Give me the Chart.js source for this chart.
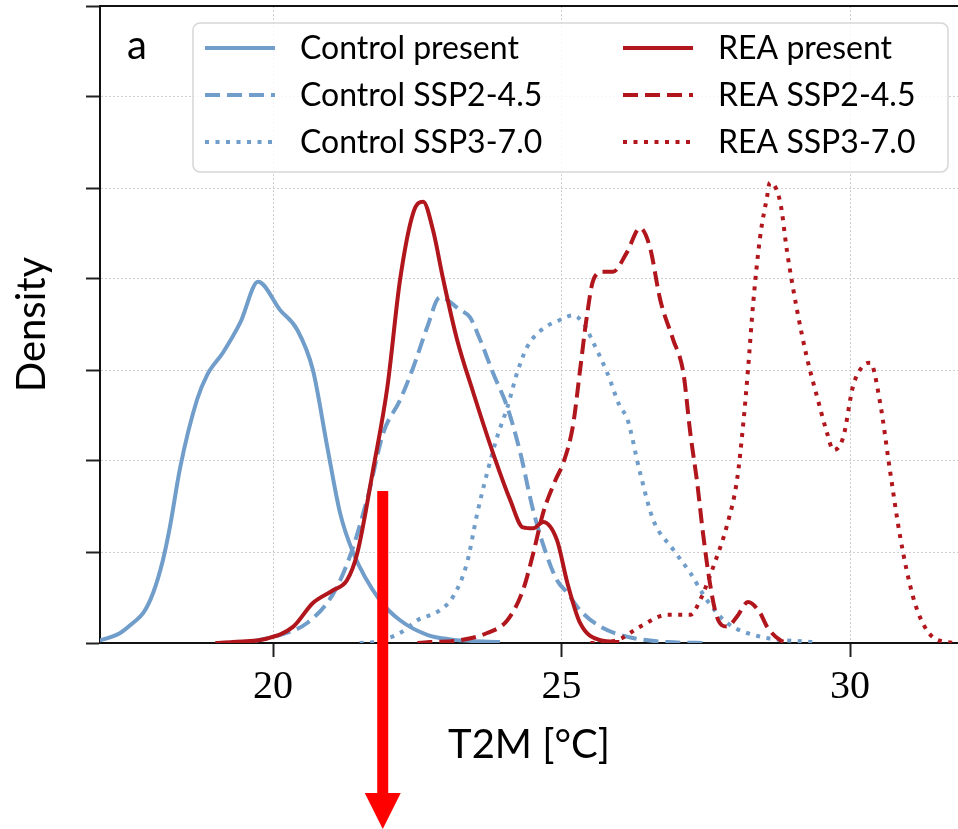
<!DOCTYPE html>
<html>
<head>
<meta charset="utf-8">
<script src="https://cdn.jsdelivr.net/npm/chart.js@4.4.1/dist/chart.umd.min.js"></script>
<style>
  html, body { margin: 0; padding: 0; background: #fff; }
  #wrap { width: 958px; height: 829px; }
</style>
</head>
<body>
<div id="wrap"><canvas id="kde"></canvas></div>
<script>
// temperature (x) and density (y) of each curve
const ctrlPresentX = [16.8, 17.0, 17.35, 17.57, 17.75, 17.92, 18.09, 18.21, 18.39, 18.68, 18.86, 19.13, 19.43, 19.74, 20.12, 20.42, 20.69, 20.94, 21.16, 21.39, 21.85, 22.2, 22.67, 23.07, 23.93];
const ctrlPresentY = [0.001, 0.003, 0.011, 0.022, 0.033, 0.055, 0.091, 0.127, 0.193, 0.267, 0.295, 0.319, 0.352, 0.397, 0.366, 0.344, 0.300, 0.215, 0.143, 0.099, 0.047, 0.025, 0.009, 0.004, 0.001];

const ctrlSsp2X = [19.3, 19.55, 20.12, 20.59, 21.04, 21.33, 21.63, 21.91, 22.2, 22.43, 22.67, 22.89, 23.24, 23.41, 23.59, 23.81, 24.06, 24.28, 24.51, 24.75, 24.92, 25.1, 25.32, 25.67, 26.13, 26.83, 27.5];
const ctrlSsp2Y = [0.0, 0.001, 0.009, 0.022, 0.054, 0.095, 0.158, 0.231, 0.267, 0.303, 0.347, 0.380, 0.366, 0.358, 0.333, 0.297, 0.259, 0.21, 0.145, 0.095, 0.069, 0.055, 0.036, 0.018, 0.007, 0.001, 0.0];

const ctrlSsp3X = [21.5, 21.73, 22.2, 22.5, 22.89, 23.12, 23.36, 23.54, 23.71, 23.88, 24.06, 24.23, 24.40, 24.63, 24.97, 25.2, 25.37, 25.55, 25.79, 26.01, 26.14, 26.36, 26.59, 26.93, 27.23, 27.52, 27.87, 28.44, 29.36];
const ctrlSsp3Y = [0.0, 0.001, 0.011, 0.025, 0.036, 0.051, 0.088, 0.143, 0.187, 0.226, 0.259, 0.297, 0.325, 0.343, 0.355, 0.360, 0.352, 0.330, 0.297, 0.260, 0.246, 0.187, 0.135, 0.103, 0.077, 0.047, 0.022, 0.007, 0.001];

const reaPresentX = [19.0, 19.3, 19.9, 20.35, 20.69, 21.04, 21.28, 21.46, 21.74, 21.98, 22.2, 22.43, 22.6, 22.77, 22.95, 23.19, 23.47, 23.81, 24.11, 24.33, 24.51, 24.68, 24.92, 25.1, 25.32, 25.67, 26.0];
const reaPresentY = [0.0, 0.001, 0.005, 0.018, 0.044, 0.058, 0.069, 0.099, 0.193, 0.281, 0.399, 0.473, 0.485, 0.454, 0.399, 0.333, 0.275, 0.209, 0.157, 0.127, 0.126, 0.133, 0.113, 0.066, 0.022, 0.003, 0.001];

const reaSsp2X = [22.5, 22.72, 23.24, 23.71, 24.06, 24.33, 24.51, 24.68, 24.9, 25.03, 25.2, 25.32, 25.44, 25.55, 25.72, 25.89, 26.13, 26.36, 26.53, 26.71, 26.93, 27.11, 27.23, 27.35, 27.45, 27.57, 27.69, 27.87, 28.04, 28.23, 28.44, 28.56, 28.79, 28.96];
const reaSsp2Y = [0.0, 0.001, 0.003, 0.011, 0.025, 0.058, 0.099, 0.143, 0.18, 0.198, 0.24, 0.30, 0.36, 0.399, 0.408, 0.408, 0.429, 0.456, 0.435, 0.377, 0.334, 0.297, 0.231, 0.176, 0.121, 0.066, 0.029, 0.018, 0.029, 0.045, 0.033, 0.018, 0.003, 0.0];

const reaSsp3X = [25.5, 25.96, 26.36, 26.83, 27.23, 27.40, 27.63, 27.87, 28.04, 28.15, 28.23, 28.32, 28.44, 28.56, 28.61, 28.79, 28.91, 29.08, 29.25, 29.43, 29.60, 29.71, 29.88, 30.05, 30.23, 30.35, 30.52, 30.69, 30.87, 31.09, 31.33, 31.68, 32.0];
const reaSsp3Y = [0.0, 0.003, 0.018, 0.031, 0.031, 0.047, 0.084, 0.13, 0.179, 0.242, 0.3, 0.373, 0.446, 0.49, 0.506, 0.484, 0.429, 0.366, 0.314, 0.270, 0.231, 0.212, 0.226, 0.282, 0.305, 0.308, 0.264, 0.190, 0.116, 0.051, 0.014, 0.001, 0.0];

const seriesLabels = ['Control present', 'Control SSP2-4.5', 'Control SSP3-7.0', 'REA present', 'REA SSP2-4.5', 'REA SSP3-7.0'];
const xTicks = [20, 25, 30];
const yTicks = [0, 0.1, 0.2, 0.3, 0.4, 0.5, 0.6, 0.7];
const panelLetter = 'a';
// red marker arrow: x position and top in data units
const arrowX = 21.9;
const arrowTop = 0.167;

const blue = 'rgb(112, 157, 201)';
const red = 'rgb(176, 22, 28)';
const solid = [];
const dashed = [15, 7];
const dotted = [4, 6.5];

function pts(xs, ys) {
    return xs.map((x, i) => ({ x: x, y: ys[i] }));
}

function curve(label, xs, ys, color, dash, order) {
    return {
        label: label,
        data: pts(xs, ys),
        borderColor: color,
        borderWidth: 4,
        borderDash: dash,
        pointRadius: 0,
        fill: false,
        tension: 0.4,
        cubicInterpolationMode: 'monotone',
        order: order
    };
}

// two column legend inside the plot, plus the panel letter and the arrow
const legendBox = {
    id: 'legendBox',
    afterDatasetsDraw(chart) {
        const ctx = chart.ctx;
        const a = chart.chartArea;
        const left = a.left + 93, top = a.top + 17;
        ctx.save();
        ctx.beginPath();
        ctx.roundRect(left, top, 755, 149, 7);
        ctx.fillStyle = 'rgba(255,255,255,0.8)';
        ctx.fill();
        ctx.lineWidth = 1.5;
        ctx.strokeStyle = '#d6d6d6';
        ctx.stroke();

        ctx.font = '32px Lato';
        ctx.textBaseline = 'middle';
        chart.data.datasets.forEach((ds, i) => {
            const col = Math.floor(i / 3), row = i % 3;
            const x0 = left + 12 + col * 418;
            const y = top + 25 + row * 47;
            ctx.beginPath();
            ctx.setLineDash(ds.borderDash);
            ctx.strokeStyle = ds.borderColor;
            ctx.lineWidth = ds.borderWidth;
            ctx.moveTo(x0, y);
            ctx.lineTo(x0 + 70, y);
            ctx.stroke();
            ctx.setLineDash([]);
            ctx.fillStyle = '#000';
            ctx.fillText(ds.label, x0 + 95, y + 1);
        });

        ctx.font = '40px Lato';
        ctx.fillText(panelLetter, a.left + 27, a.top + 40);
        ctx.restore();
    },
    afterDraw(chart) {
        const ctx = chart.ctx;
        const x = chart.scales.x.getPixelForValue(arrowX);
        const y0 = chart.scales.y.getPixelForValue(arrowTop);
        const y1 = chart.height;
        ctx.save();
        ctx.fillStyle = '#ff0000';
        ctx.fillRect(x - 5.5, y0, 11, y1 - y0 - 34);
        ctx.beginPath();
        ctx.moveTo(x - 18, y1 - 36);
        ctx.lineTo(x + 18, y1 - 36);
        ctx.lineTo(x, y1);
        ctx.closePath();
        ctx.fill();
        ctx.restore();
    }
};

const kdeChart = new Chart(document.getElementById('kde'), {
    type: 'line',
    data: {
        datasets: [
            curve(seriesLabels[0], ctrlPresentX, ctrlPresentY, blue, solid, 6),
            curve(seriesLabels[1], ctrlSsp2X, ctrlSsp2Y, blue, dashed, 5),
            curve(seriesLabels[2], ctrlSsp3X, ctrlSsp3Y, blue, dotted, 4),
            curve(seriesLabels[3], reaPresentX, reaPresentY, red, solid, 3),
            curve(seriesLabels[4], reaSsp2X, reaSsp2Y, red, dashed, 2),
            curve(seriesLabels[5], reaSsp3X, reaSsp3Y, red, dotted, 1)
        ]
    },
    options: {
        responsive: true,
        maintainAspectRatio: false,
        animation: false,
        devicePixelRatio: 1,
        layout: { padding: 0 },
        plugins: {
            legend: { display: false },
            tooltip: { enabled: false }
        },
        scales: {
            x: {
                type: 'linear',
                position: 'bottom',
                min: 17.0,
                max: 31.87,
                afterFit: s => { s.height = 186; },
                afterBuildTicks: s => { s.ticks = xTicks.map(v => ({ value: v })); },
                grid: { color: '#cfcfcf', lineWidth: 1, tickColor: '#222', tickWidth: 2, tickLength: 14 },
                border: { color: '#111', width: 2, dash: [2, 2] },
                ticks: {
                    color: '#000',
                    padding: 6,
                    maxRotation: 0,
                    font: { family: 'Liberation Serif', size: 40 },
                    callback: v => v
                },
                title: {
                    display: true,
                    text: 'T2M [°C]',
                    color: '#000',
                    font: { family: 'Lato', size: 40 },
                    padding: { top: 0, bottom: 60 }
                }
            },
            xTop: {
                type: 'linear',
                position: 'top',
                min: 17.0,
                max: 31.87,
                afterFit: s => { s.height = 6; },
                grid: { display: false, drawTicks: false },
                border: { color: '#111', width: 2 },
                ticks: { display: false }
            },
            y: {
                min: 0,
                max: 0.7,
                afterFit: s => { s.width = 100; },
                afterBuildTicks: s => { s.ticks = yTicks.map(v => ({ value: v })); },
                grid: { color: '#cfcfcf', lineWidth: 1, tickColor: '#222', tickWidth: 2, tickLength: 14 },
                border: { color: '#111', width: 2, dash: [2, 2] },
                ticks: { display: false },
                title: {
                    display: true,
                    text: 'Density',
                    color: '#000',
                    font: { family: 'Lato', size: 40 },
                    padding: { top: 8, bottom: 0 }
                }
            }
        }
    },
    plugins: [legendBox]
});
</script>
</body>
</html>
